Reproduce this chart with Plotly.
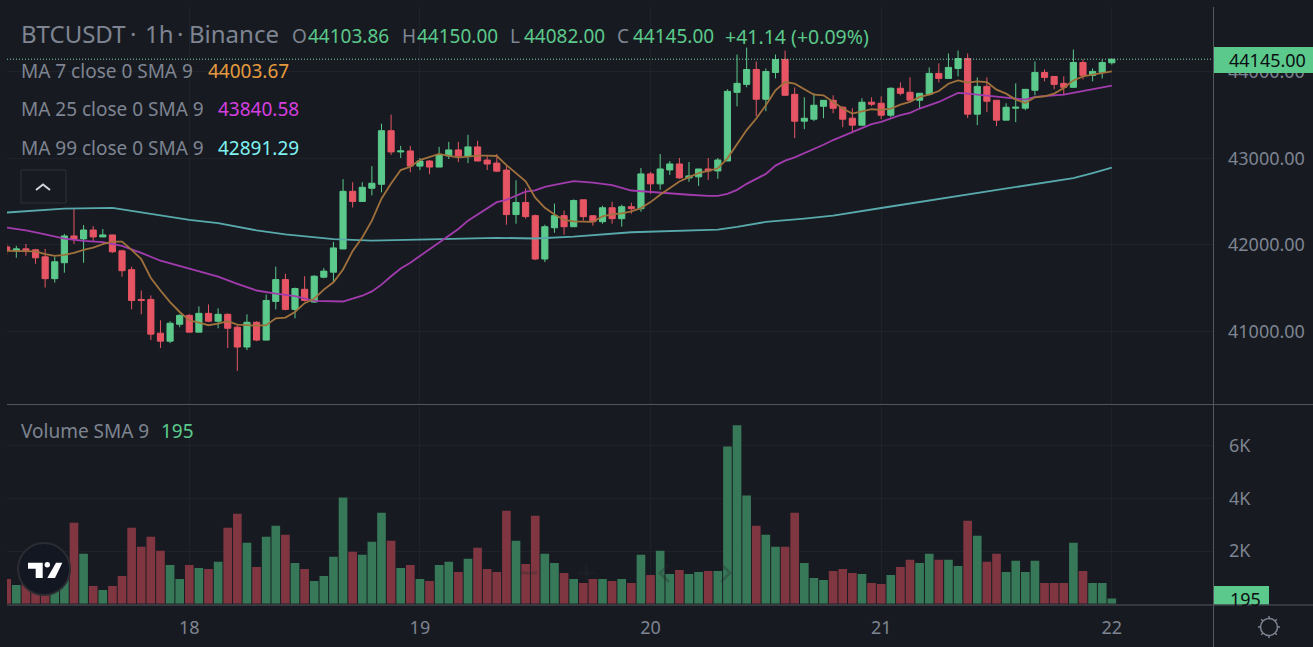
import math
import plotly.graph_objects as go

# hours counted from the 18th 00:00, one candle per hour
hours = list(range(-19, 97))

opens = [41977, 41935, 41954, 41943, 41862, 41610, 41794, 42103, 42069, 42172,
         42092, 42115, 41931, 41714, 41370, 41370, 40980, 40888, 41083, 41186,
         40992, 41209, 41118, 41198, 41049, 40820, 41106, 40900, 41347, 41599,
         41255, 41487, 41340, 41627, 41685, 41953, 42619, 42502, 42654, 42700,
         43319, 43074, 43085, 42910, 42969, 42899, 43027, 43097, 43027, 43132,
         42980, 42945, 42864, 42350, 42490, 42338, 41837, 42198, 42338, 42210,
         42521, 42337, 42268, 42429, 42303, 42441, 42418, 42820, 42705, 42866,
         42935, 42774, 42786, 42877, 42854, 42969, 43762, 43854, 44026, 43682,
         43992, 44141, 43739, 43429, 43452, 43601, 43670, 43590, 43464, 43383,
         43648, 43636, 43498, 43809, 43763, 43671, 43740, 43981, 43923, 44038,
         44153, 43510, 43831, 43671, 43441, 43579, 43579, 43786, 43992, 43946,
         43866, 43820, 44107, 43958, 43992, 44103.86]
highs = [42015, 41989, 42011, 41954, 41954, 41862, 42126, 42413, 42229, 42218,
         42183, 42115, 41943, 41748, 41473, 41416, 41129, 41118, 41198, 41198,
         41289, 41312, 41267, 41209, 41072, 41198, 41118, 41427, 41748, 41668,
         41507, 41638, 41650, 41732, 42035, 42759, 42724, 42724, 42910, 43400,
         43505, 43144, 43144, 43004, 42980, 43132, 43190, 43190, 43272, 43202,
         43027, 43050, 42910, 42747, 42654, 42350, 42233, 42478, 42397, 42525,
         42521, 42337, 42452, 42498, 42464, 42487, 42889, 42843, 43050, 42969,
         43004, 42958, 42877, 43004, 43004, 43797, 44199, 44279, 44118, 44038,
         44199, 44245, 43820, 43705, 43751, 43670, 43728, 43601, 43579, 43694,
         43705, 43717, 43820, 43877, 43935, 43751, 44050, 44096, 44211, 44245,
         44211, 43935, 43935, 43671, 43636, 43866, 43797, 44119, 44027, 43946,
         43946, 44257, 44142, 44038, 44142, 44150]
lows = [41885, 41851, 41874, 41782, 41507, 41565, 41679, 42011, 41794, 42046,
        42092, 41908, 41633, 41255, 41198, 40900, 40808, 40865, 41049, 40992,
        40992, 41106, 41037, 40808, 40545, 40785, 40888, 40900, 41255, 41244,
        41152, 41346, 41330, 41615, 41568, 41953, 42432, 42502, 42572, 42607,
        43039, 43004, 42840, 42864, 42817, 42899, 42992, 42957, 42945, 42969,
        42864, 42840, 42233, 42245, 42303, 41825, 41802, 42140, 42117, 42210,
        42280, 42222, 42245, 42245, 42211, 42360, 42383, 42590, 42636, 42808,
        42763, 42728, 42682, 42751, 42763, 42969, 43601, 43820, 43486, 43544,
        43923, 43728, 43234, 43337, 43429, 43463, 43521, 43360, 43291, 43372,
        43602, 43452, 43475, 43728, 43671, 43579, 43728, 43877, 43923, 43946,
        43464, 43383, 43533, 43372, 43441, 43418, 43556, 43728, 43889, 43797,
        43728, 43820, 43912, 43889, 43923, 44082]
closes = [41939, 41954, 41935, 41851, 41610, 41805, 42103, 42069, 42172, 42092,
          42115, 41920, 41702, 41358, 41358, 40969, 40888, 41095, 41186, 40992,
          41209, 41118, 41198, 41037, 40820, 41106, 40900, 41358, 41599, 41255,
          41496, 41358, 41638, 41697, 41965, 42619, 42502, 42665, 42712, 43319,
          43074, 43085, 42910, 42969, 42899, 43039, 43097, 43027, 43132, 42969,
          42934, 42852, 42350, 42490, 42327, 41837, 42210, 42338, 42210, 42513,
          42326, 42268, 42429, 42303, 42441, 42418, 42820, 42705, 42877, 42935,
          42774, 42797, 42877, 42854, 42981, 43774, 43866, 44026, 43682, 44003,
          44141, 43728, 43429, 43463, 43613, 43670, 43578, 43452, 43383, 43648,
          43625, 43498, 43809, 43751, 43671, 43751, 43981, 43923, 44050, 44153,
          43510, 43831, 43659, 43441, 43590, 43590, 43797, 43992, 43935, 43854,
          43820, 44107, 43958, 44004, 44107, 44145]
volumes = [940, 711, 1000, 1500, 1700, 1300, 1200, 3073, 1892, 673,
           521, 673, 1054, 2883, 2159, 2540, 2007, 1473, 940, 1473,
           1359, 1321, 1588, 2883, 3416, 2311, 1397, 2540, 2959, 2616,
           1549, 1321, 864, 1054, 1778, 4026, 1969, 1854, 2350, 3454,
           2388, 1359, 1473, 940, 864, 1473, 1588, 1207, 1702, 2121,
           1321, 1207, 3531, 2388, 1511, 3340, 1892, 1549, 1168, 940,
           787, 940, 940, 864, 940, 787, 1854, 1092, 2007, 1130,
           1283, 1130, 1207, 1245, 1245, 5969, 6769, 4102, 2959, 2616,
           2159, 2159, 3454, 1549, 978, 902, 1245, 1321, 1168, 1130,
           787, 749, 1092, 1397, 1664, 1549, 1892, 1664, 1664, 1435,
           3150, 2578, 1588, 1892, 1207, 1626, 1207, 1626, 787, 787,
           787, 2311, 1245, 787, 787, 195]

ma7_hours = [-19, -16, -15, -14, -13, -12, -11, -10, -9, -8, -7, -6, -5, -4, -3, -2, -1,
             0, 1, 2, 3, 4, 5, 6, 7, 8, 9, 10, 11, 12, 13, 14, 15, 16, 17, 18, 19, 20,
             21, 22, 23, 24, 25, 26, 27, 28, 29, 30, 31, 32, 33, 34, 35, 36, 37, 38, 39, 40,
             41, 42, 43, 44, 45, 46, 47, 48, 49, 50, 51, 52, 53, 54, 55, 56, 57, 58, 59, 60,
             61, 62, 63, 64, 65, 66, 67, 68, 69, 70, 71, 72, 73, 74, 75, 76, 77, 78, 79, 80,
             81, 82, 83, 84, 85, 86, 87, 88, 89, 90, 91, 92, 93, 94, 95, 96]
ma7_values = [41931, 41924, 41893, 41874, 41885, 41908, 41943, 41969, 42008, 42038, 42038, 41943, 41836, 41618, 41473, 41339, 41225,
              41129, 41102, 41072, 41091, 41118, 41079, 41072, 41068, 41072, 41152, 41160, 41225, 41327, 41378, 41483, 41568, 41716, 41930, 42086, 42280, 42533,
              42708, 42864, 42902, 42980, 43011, 43050, 43027, 43011, 43019, 43031, 43031, 43027, 42922, 42832, 42735, 42545, 42428, 42350, 42288, 42272,
              42268, 42265, 42330, 42353, 42364, 42387, 42425, 42494, 42579, 42655, 42732, 42782, 42828, 42854, 42885, 43000, 43165, 43326, 43460, 43613,
              43785, 43881, 43862, 43797, 43735, 43728, 43651, 43575, 43517, 43544, 43567, 43560, 43575, 43621, 43651, 43709, 43736, 43778, 43862, 43900,
              43874, 43889, 43881, 43793, 43747, 43678, 43640, 43705, 43717, 43747, 43812, 43900, 43946, 43966, 43985, 44003.67]

ma25_hours = [-19, -17, -15, -13, -11, -9, -7, -5, -3, -1, 1, 3, 5, 7, 9, 11, 13, 15, 16, 17, 18, 19, 20,
              21, 22, 23, 24, 25, 26, 27, 28, 29, 30, 31, 32, 33, 34, 35, 36, 37, 38, 40, 42, 44, 46, 48, 50, 52, 54, 55, 56,
              57, 58, 59, 60, 61, 62, 63, 64, 65, 66, 67, 68, 69, 71, 72, 74, 75, 76, 78, 80, 81, 83, 85, 87, 88, 91, 96]
ma25_values = [42199, 42168, 42122, 42073, 42046, 42031, 41989, 41908, 41817, 41756, 41687, 41633, 41549, 41473, 41438, 41408, 41354, 41346, 41346, 41378, 41413, 41463, 41541,
               41638, 41728, 41794, 41872, 41949, 42027, 42113, 42183, 42280, 42350, 42416, 42494, 42521, 42572, 42615, 42630, 42669, 42692, 42736, 42720, 42690, 42628, 42609, 42598, 42579, 42567, 42567, 42590,
               42636, 42705, 42759, 42820, 42916, 42973, 43011, 43057, 43103, 43157, 43211, 43257, 43307, 43395, 43422, 43498, 43525, 43575, 43651, 43755, 43747, 43728, 43701, 43678, 43709, 43736, 43840.58]

ma99_hours = [-19, -13, -8, -3, 0, 3, 7, 10, 12, 15, 19, 24, 29, 32, 36, 40, 46, 50, 55, 57, 60, 64, 67, 72, 80, 88, 92, 94, 96]
ma99_values = [42374, 42420, 42428, 42344, 42290, 42252, 42168, 42122, 42097, 42066, 42050, 42062, 42082, 42082, 42074, 42095, 42146, 42161, 42177, 42207, 42265, 42303, 42337, 42426, 42565, 42703, 42772, 42830, 42891.29]

day_hours = [0, 24, 48, 72, 96]
day_labels = ['18', '19', '20', '21', '22']
price_ticks = [41000, 42000, 43000, 44000]
volume_ticks = [2000, 4000, 6000]
volume_labels = ['2K', '4K', '6K']

last_close = 44145
FONT = 'Noto Sans'
BG = '#171B21'
GREY = '#7E8491'
GRID = '#1F2329'
EDGE = '#54575C'
UP = '#5BC98B'
DOWN = '#E75564'
W, H = 1313, 647


def fx(x):
    return x / W


def fy(y):
    return 1 - y / H


def path(points, close=False):
    s = 'M' + ' L'.join(f'{fx(x):.5f},{fy(y):.5f}' for x, y in points)
    return s + (' Z' if close else '')


def label(x, y, text, color=GREY, size=19, xanchor='left'):
    # annotations carry a little padding of their own
    if xanchor == 'left':
        x -= 1.5
    fig.add_annotation(xref='paper', yref='paper', x=fx(x), y=fy(y), text=text, showarrow=False,
                       xanchor=xanchor, yanchor='middle', borderpad=0,
                       font=dict(family=FONT, size=size, color=color))


def draw(points, close=False, line='rgba(0,0,0,0)', width=1, fill=None):
    fig.add_shape(type='path', xref='paper', yref='paper', path=path(points, close),
                  line=dict(color=line, width=width), fillcolor=fill)


def box(x0, y0, x1, y1, fill=None, line='rgba(0,0,0,0)', width=1, kind='rect'):
    fig.add_shape(type=kind, xref='paper', yref='paper', x0=fx(x0), x1=fx(x1), y0=fy(y0), y1=fy(y1),
                  fillcolor=fill, line=dict(color=line, width=width))


fig = go.Figure()

fig.add_trace(go.Candlestick(
    x=hours, open=opens, high=highs, low=lows, close=closes,
    whiskerwidth=0,
    increasing=dict(line=dict(color=UP, width=1), fillcolor=UP),
    decreasing=dict(line=dict(color=DOWN, width=1), fillcolor=DOWN),
))
fig.add_trace(go.Scatter(x=ma99_hours, y=ma99_values, mode='lines', line=dict(color='#58A9AC', width=1.8)))
fig.add_trace(go.Scatter(x=ma25_hours, y=ma25_values, mode='lines', line=dict(color='#A23BAE', width=1.8)))
fig.add_trace(go.Scatter(x=ma7_hours, y=ma7_values, mode='lines', line=dict(color='#A0713C', width=1.8)))

vol_colors = ['#377858' if c >= o else '#803640' for o, c in zip(opens, closes)]
fig.add_trace(go.Bar(x=hours, y=volumes, yaxis='y2', marker=dict(color=vol_colors, line_width=0)))

fig.update_layout(
    width=W, height=H,
    margin=dict(l=0, r=0, t=0, b=0),
    paper_bgcolor=BG, plot_bgcolor=BG,
    showlegend=False,
    boxgap=0.36,
    boxgroupgap=0,
    bargap=0.1,
    font=dict(family=FONT, size=18, color=GREY),
    xaxis=dict(domain=[fx(7), fx(1213)], range=[-18.97, 106.53], anchor='y2',
               tickvals=day_hours, ticktext=day_labels, ticks='', showline=False, zeroline=False,
               showgrid=True, gridcolor=GRID, gridwidth=1, ticklabelstandoff=11,
               rangeslider=dict(visible=False),
               tickfont=dict(family=FONT, size=18, color=GREY)),
    yaxis=dict(domain=[fy(404), fy(7)], range=[40162, 44748], side='right', anchor='x',
               tickvals=price_ticks, tickformat='.2f', ticks='', showline=False, zeroline=False,
               showgrid=True, gridcolor=GRID, gridwidth=1, ticklabelstandoff=14,
               tickfont=dict(family=FONT, size=18, color=GREY)),
    yaxis2=dict(domain=[fy(603.7), fy(407)], range=[0, 7465], side='right', anchor='x',
                tickvals=volume_ticks, ticktext=volume_labels, ticks='', showline=False, zeroline=False,
                showgrid=True, gridcolor=GRID, gridwidth=1, ticklabelstandoff=15,
                tickfont=dict(family=FONT, size=18, color=GREY)),
)

# last price line and tags
fig.add_shape(type='line', xref='x', yref='y', x0=-18.97, x1=106.53, y0=last_close, y1=last_close,
              line=dict(color='#7FD6A6', width=1, dash='1px,2px'))
box(1213, 47, 1313, 73, fill=UP)
label(1307, 60.5, '44145.00', color='#0B0E12', size=18, xanchor='right')
box(1213, 586, 1269, 604.5, fill=UP)
label(1245, 599, '195', color='#0B0E12', size=18, xanchor='center')

# pane borders
draw([(1213.5, 7), (1213.5, 647)], line=EDGE)
draw([(7, 404.5), (1313, 404.5)], line=EDGE)
draw([(7, 605), (1313, 605)], line=EDGE)

# header
label(21, 33, 'BTCUSDT', size=24)
label(130, 33, '·', size=24)
label(145, 33, '1h', size=24)
label(177, 33, '·', size=24)
label(190, 33, 'Binance', size=24)
for letter, lx, value, vx in [('O', 292, '44103.86', 308), ('H', 402, '44150.00', 417),
                              ('L', 510, '44082.00', 524), ('C', 617, '44145.00', 633)]:
    label(lx, 36, letter)
    label(vx, 36, value, color=UP)
label(725, 36, '+41.14 (+0.09%)', color=UP, size=19.5)

label(21, 71, 'MA 7 close 0 SMA 9')
label(208, 71, '44003.67', color='#E59A3F')
label(21, 109, 'MA 25 close 0 SMA 9')
label(218, 109, '43840.58', color='#D63FE0')
label(21, 148, 'MA 99 close 0 SMA 9')
label(218, 148, '42891.29', color='#7FF2F2')
label(21, 431, 'Volume SMA 9')
label(161, 431, '195', color=UP)

# collapse button
draw([(25, 170), (62, 170), (66, 170), (66, 174), (66, 199), (66, 203), (62, 203), (25, 203),
      (21, 203), (21, 199), (21, 174), (21, 170)], close=True, line='#2E3238')
draw([(36, 190), (43, 184.5), (50, 190)], line='#D1D4DC', width=2)

# faint scroll and zoom buttons over the volume pane
faint = 'rgba(36,44,46,0.3)'
draw([(520, 573), (537, 573)], line=faint, width=3)
draw([(578, 573), (595, 573)], line=faint, width=3)
draw([(586.5, 565), (586.5, 581)], line=faint, width=3)
draw([(669, 564), (660, 573), (669, 582)], line=faint, width=3)
draw([(721, 564), (730, 573), (721, 582)], line=faint, width=3)

# logo
box(18, 543, 70, 595, fill='#131722', line='#2B2D33', width=2, kind='circle')
draw([(28, 562.7), (42.7, 562.7), (42.7, 578), (35.7, 578), (35.7, 568.7), (28, 568.7)], close=True, fill='#FFFFFF')
box(44.6, 562, 50, 567.4, fill='#FFFFFF', kind='circle')
draw([(56, 562.7), (62.3, 562.7), (55, 578), (47.3, 578)], close=True, fill='#FFFFFF')

# settings gear
box(1260.5, 618.5, 1277.5, 635.5, line=GREY, width=1.5, kind='circle')
for step in range(8):
    a = step * math.pi / 4
    draw([(1269 + 8.5 * math.cos(a), 627 + 8.5 * math.sin(a)),
          (1269 + 11 * math.cos(a), 627 + 11 * math.sin(a))], line=GREY, width=1.5)

# page body has a default margin that would shift the chart
fig.write_html("out.html", config=dict(displayModeBar=False),
               post_script="document.body.style.margin='0';document.body.style.background='#171B21';")
